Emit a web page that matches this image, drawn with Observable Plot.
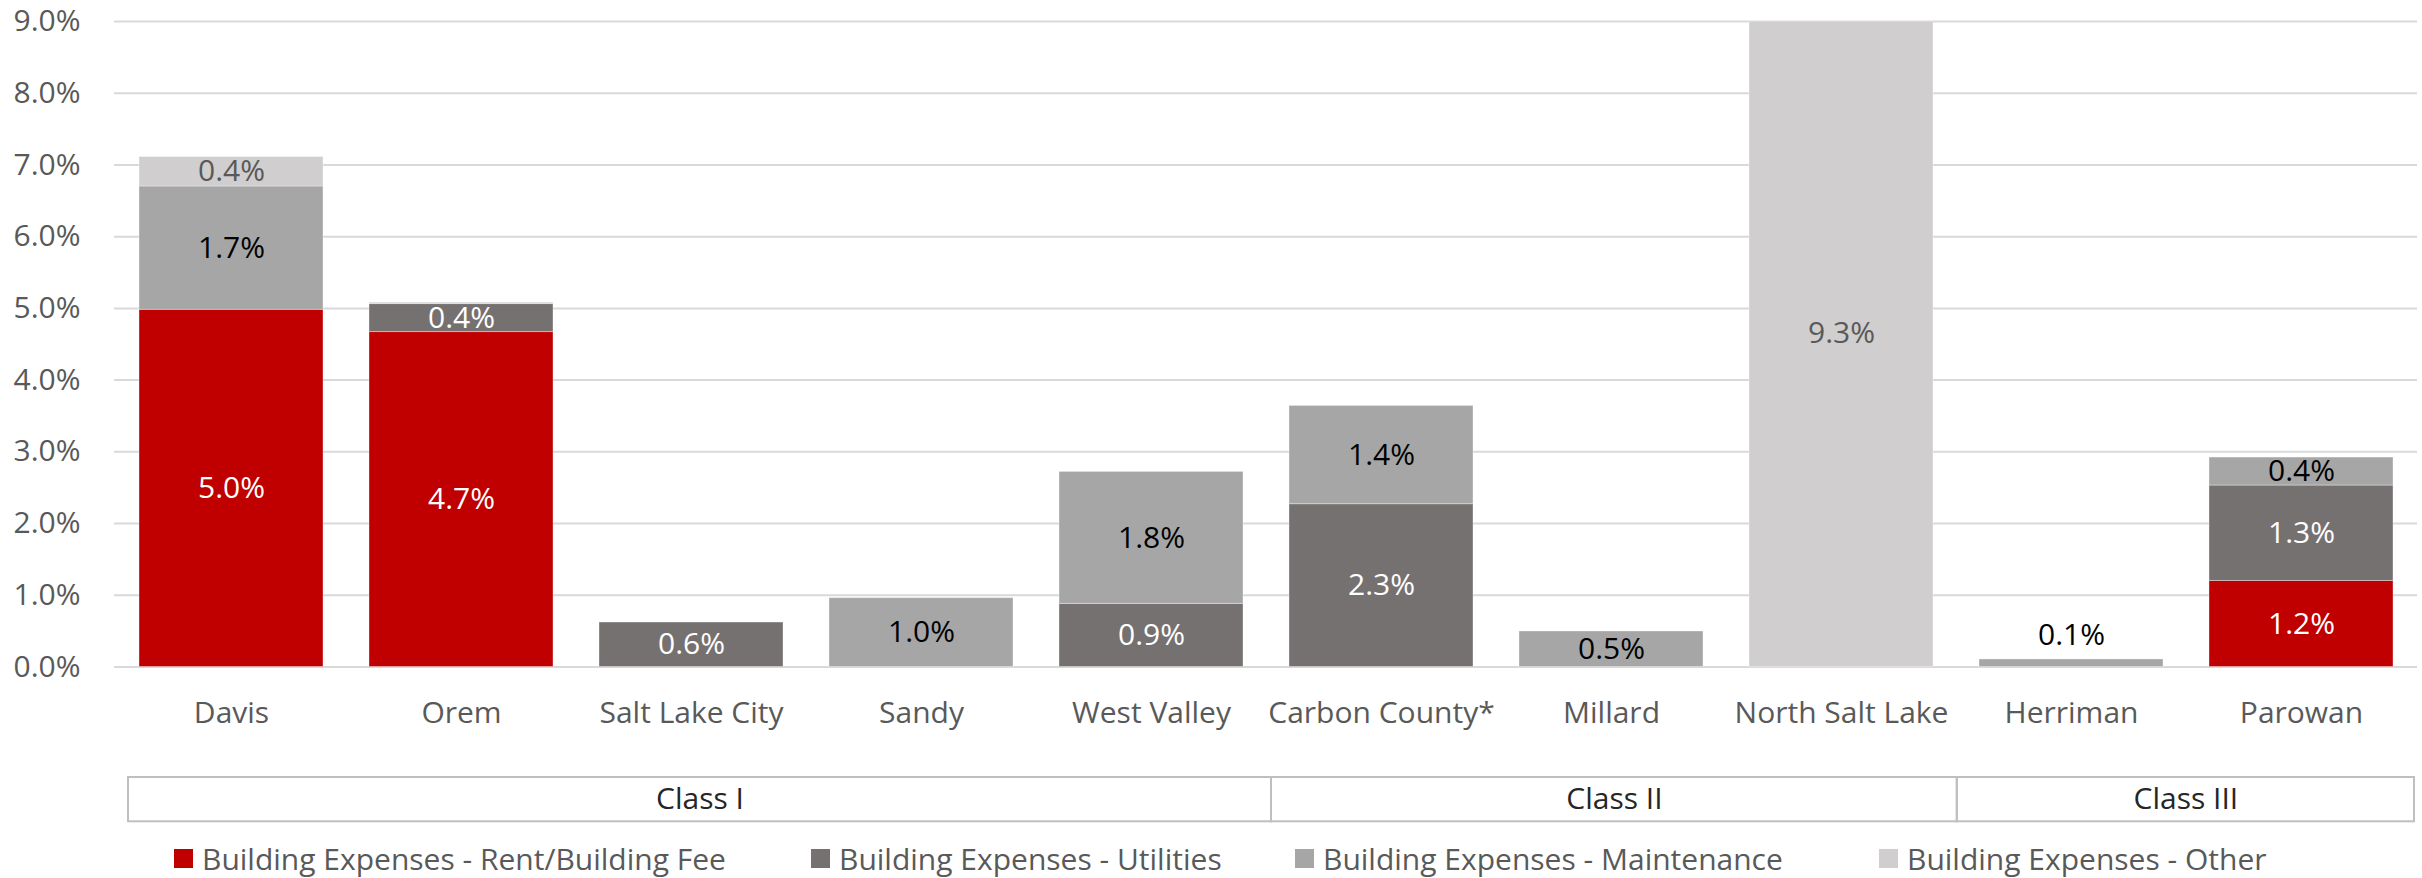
<!DOCTYPE html>
<html>
<head>
<meta charset="utf-8">
<script src="https://cdn.jsdelivr.net/npm/d3@7"></script>
<script src="https://cdn.jsdelivr.net/npm/@observablehq/plot@0.6"></script>
<style>
  html, body { margin: 0; padding: 0; background: #fff; }
  #wrap { position: relative; width: 2422px; height: 878px; font-family: "Segoe UI", "Open Sans", sans-serif; }
  #legend { position: absolute; left: 0; top: 839px; width: 2422px; height: 39px; }
  .item { position: absolute; top: 0; height: 39px; display: flex; align-items: center; white-space: nowrap; color: #595959; font-size: 30px; }
  .sw { width: 19px; height: 19px; margin-right: 9px; flex: none; }
  svg { display: block; }
</style>
</head>
<body>
<div id="wrap">
  <div id="main"></div>
  <div id="classes"></div>
  <div id="legend"></div>
</div>
<script>
const cities = ["Davis","Orem","Salt Lake City","Sandy","West Valley","Carbon County*","Millard","North Salt Lake","Herriman","Parowan"];
const seriesNames = ["Building Expenses - Rent/Building Fee","Building Expenses - Utilities","Building Expenses - Maintenance","Building Expenses - Other"];
const rent        = [4.98, 4.67, 0,    0,    0,    0,    0,     0,   0,     1.20];
const utilities   = [0,    0.39, 0.62, 0,    0.88, 2.27, 0,     0,   0,     1.33];
const maintenance = [1.72, 0,    0,    0.96, 1.84, 1.37, 0.495, 0,   0.105, 0.39];
const other       = [0.41, 0.02, 0,    0,    0,    0,    0,     9.3, 0,     0];
const classNames = ["Class I","Class II","Class III"];
const classSizes = [5, 3, 2];
const yTicks = [0,1,2,3,4,5,6,7,8,9];

const colors = ["#C00000","#767171","#A6A6A6","#D0CECE"];
const labelColors = ["#ffffff","#ffffff","#000000","#595959"];
const FONT = "'Segoe UI', 'Open Sans', sans-serif";
const FS = 30;

const seriesValues = [rent, utilities, maintenance, other];
const rows = [];
cities.forEach((c, i) => {
  let acc = 0;
  seriesValues.forEach((vals, s) => {
    const v = vals[i];
    if (v > 0) {
      rows.push({city: c, series: seriesNames[s], s, value: v, y1: acc, y2: acc + v, mid: acc + v / 2});
      acc += v;
    }
  });
});
const labels = rows.filter(d => d.value >= 0.05);
const smallLabels = labels.filter(d => d.value < 0.2);
const normalLabels = labels.filter(d => d.value >= 0.2);

const main = Plot.plot({
  width: 2422,
  height: 745,
  marginLeft: 114,
  marginRight: 5,
  marginTop: 21,
  marginBottom: 78.5,
  style: {fontFamily: FONT, fontSize: FS + "px", background: "#fff"},
  x: {domain: cities, paddingInner: 0.2, paddingOuter: 0.1, label: null},
  y: {domain: [0, 9], label: null},
  color: {domain: seriesNames, range: colors},
  marks: [
    Plot.gridY(yTicks, {stroke: "#D9D9D9", strokeOpacity: 1, strokeWidth: 2}),
    Plot.barY(rows, {x: "city", y1: "y1", y2: (d) => Math.min(d.y2, 9), fill: "series", stroke: "#ffffff", strokeOpacity: 0.35, strokeWidth: 1}),
    Plot.text(normalLabels, {x: "city", y: "mid", text: d => d.value.toFixed(1) + "%", fill: d => labelColors[d.s]}),
    Plot.text(smallLabels, {x: "city", y: "y2", dy: -24, text: d => d.value.toFixed(1) + "%", fill: "#000000"}),
    Plot.axisY({ticks: yTicks, tickFormat: d => d.toFixed(1) + "%", tickSize: 0, tickPadding: 34, fill: "#595959", label: null}),
    Plot.axisX({tickSize: 0, tickPadding: 35, fill: "#595959", label: null})
  ]
});
document.getElementById("main").appendChild(main);

// class groups (category-index units; boundaries follow the cumulative class sizes)
let start = 0;
const classRows = classNames.map((name, i) => {
  const r = {name, x1: start, x2: start + classSizes[i]};
  start += classSizes[i];
  return r;
});
const classesPlot = Plot.plot({
  width: 2422,
  height: 80,
  marginLeft: 128,
  marginRight: 8,
  marginTop: 32,
  marginBottom: 3.7,
  style: {fontFamily: FONT, fontSize: FS + "px", background: "#fff"},
  x: {domain: [0, d3.sum(classSizes)], axis: null},
  y: {domain: [0, 1], axis: null},
  marks: [
    Plot.rect(classRows, {x1: "x1", x2: "x2", y1: 0, y2: 1, fill: "none", stroke: "#BFBFBF", strokeWidth: 2}),
    Plot.text(classRows, {x: d => (d.x1 + d.x2) / 2, y: 0.5, text: "name", fill: "#262626"})
  ]
});
document.getElementById("classes").appendChild(classesPlot);

// legend
const legendLefts = [174, 811, 1295, 1879];
const legend = document.getElementById("legend");
seriesNames.forEach((name, i) => {
  const item = document.createElement("div");
  item.className = "item";
  item.style.left = legendLefts[i] + "px";
  const sw = document.createElement("div");
  sw.className = "sw";
  sw.style.background = colors[i];
  const t = document.createElement("span");
  t.textContent = name;
  item.appendChild(sw);
  item.appendChild(t);
  legend.appendChild(item);
});
</script>
</body>
</html>
